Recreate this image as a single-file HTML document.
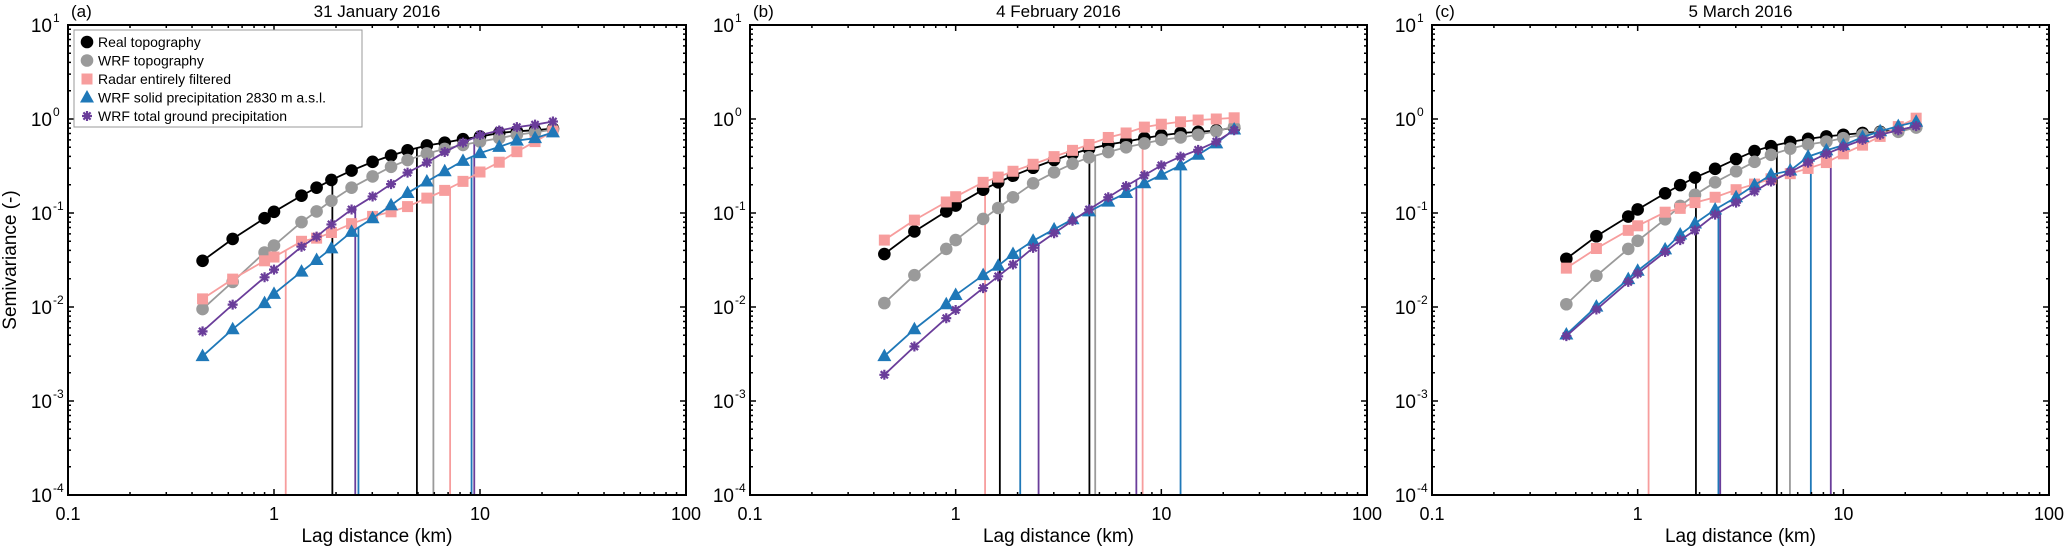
<!DOCTYPE html>
<html><head><meta charset="utf-8"><style>
html,body{margin:0;padding:0;background:#fff;}
svg{display:block;font-family:"Liberation Sans",sans-serif;}
</style></head><body>
<svg id="fig" width="2067" height="547" viewBox="0 0 2067 547"></svg>
<script>
const lags=[0.45,0.63,0.9,1.0,1.36,1.61,1.9,2.38,3.01,3.7,4.45,5.52,6.74,8.27,10.0,12.4,15.1,18.5,22.6];
const seriesNames=["Real topography","WRF topography","Radar entirely filtered","WRF solid precipitation 2830 m a.s.l.","WRF total ground precipitation"];
const panelTitles=["31 January 2016","4 February 2016","5 March 2016"];
const panelLetters=["(a)","(b)","(c)"];
const xTicks=[0.1,1,10,100];
const xTickLabels=["0.1","1","10","100"];
const yTickExps=[1,0,-1,-2,-3,-4];
// panel a
const aReal=[0.031,0.053,0.088,0.103,0.153,0.186,0.225,0.283,0.35,0.408,0.464,0.523,0.56,0.61,0.65,0.71,0.74,0.76,0.79];
const aWrfTopo=[0.0095,0.0185,0.038,0.045,0.08,0.104,0.135,0.186,0.245,0.31,0.366,0.43,0.48,0.53,0.575,0.625,0.68,0.72,0.77];
const aRadar=[0.0122,0.0198,0.031,0.034,0.05,0.054,0.062,0.077,0.092,0.103,0.117,0.144,0.174,0.217,0.273,0.347,0.449,0.575,0.74];
const aSolid=[0.003,0.0058,0.011,0.0138,0.0238,0.0316,0.042,0.063,0.088,0.121,0.163,0.216,0.278,0.359,0.434,0.505,0.589,0.625,0.72];
const aTotal=[0.0055,0.0106,0.0207,0.025,0.0438,0.056,0.0756,0.109,0.15,0.203,0.269,0.344,0.445,0.56,0.675,0.755,0.82,0.87,0.94];
// panel b
const bReal=[0.0366,0.0636,0.104,0.12,0.177,0.212,0.249,0.303,0.366,0.426,0.48,0.536,0.574,0.626,0.67,0.71,0.73,0.755,0.81];
const bWrfTopo=[0.011,0.0218,0.0415,0.0515,0.0865,0.113,0.147,0.207,0.271,0.335,0.39,0.445,0.5,0.55,0.6,0.636,0.68,0.74,0.83];
const bRadar=[0.0515,0.084,0.131,0.149,0.212,0.241,0.278,0.33,0.398,0.464,0.536,0.636,0.71,0.82,0.88,0.934,0.975,1.0,1.03];
const bSolid=[0.003,0.0058,0.0107,0.0134,0.0218,0.0275,0.0366,0.0506,0.067,0.0857,0.104,0.132,0.163,0.207,0.255,0.321,0.416,0.55,0.774];
const bTotal=[0.0019,0.0038,0.0076,0.0093,0.0159,0.0212,0.0283,0.0426,0.0609,0.0827,0.109,0.147,0.193,0.252,0.321,0.398,0.47,0.574,0.76];
// panel c
const cReal=[0.0326,0.0566,0.0917,0.109,0.162,0.198,0.238,0.295,0.375,0.456,0.514,0.57,0.615,0.653,0.68,0.71,0.73,0.76,0.83];
const cWrfTopo=[0.0107,0.0215,0.0415,0.0506,0.0857,0.119,0.156,0.212,0.278,0.35,0.416,0.484,0.536,0.574,0.626,0.68,0.72,0.73,0.81];
const cRadar=[0.0259,0.0419,0.0654,0.0731,0.102,0.112,0.129,0.147,0.177,0.203,0.231,0.262,0.298,0.344,0.426,0.527,0.653,0.83,1.02];
const cSolid=[0.0051,0.0101,0.0198,0.0243,0.041,0.059,0.0774,0.109,0.147,0.198,0.255,0.283,0.398,0.464,0.527,0.642,0.74,0.84,0.934];
const cTotal=[0.0049,0.0094,0.0185,0.0227,0.0385,0.0515,0.0654,0.096,0.129,0.17,0.216,0.273,0.344,0.426,0.505,0.6,0.68,0.76,0.84];
// range (vertical line) lag distances per series [real, wrfTopo, radar, solid, total]
const aRanges=[[1.92,4.94],[5.94],[1.14,7.16],[2.57,9.1],[2.48,9.38]];
const bRanges=[[1.64,4.47],[4.77],[1.39,8.11],[2.06,12.4],[2.53,7.56]];
const cRanges=[[1.92,4.75],[5.5],[1.13],[2.47,6.95],[2.52,8.69]];

const panelsData=[[aReal,aWrfTopo,aRadar,aSolid,aTotal],[bReal,bWrfTopo,bRadar,bSolid,bTotal],[cReal,cWrfTopo,cRadar,cSolid,cTotal]];
const panelsRanges=[aRanges,bRanges,cRanges];
const colors=["#000000","#9a9a9a","#f79d9d","#1f78b8","#6a3d9a"];
const markers=["circle","circle","square","triangle","star"];
const keys=["real-topography","wrf-topography","radar-filtered","wrf-solid-precip","wrf-total-precip"];
const frames=[[68,686],[750,1367],[1432,2049]];
const TOP=25,BOT=495;
const NS="http://www.w3.org/2000/svg";
const svg=document.getElementById("fig");
function mk(tag,attrs,parent){const e=document.createElementNS(NS,tag);for(const k in attrs)e.setAttribute(k,attrs[k]);(parent||svg).appendChild(e);return e;}
function marker(g,type,x,y,c){
  let e;
  if(type==="circle")e=mk("circle",{cx:x,cy:y,r:6.3,fill:c},g);
  else if(type==="square")e=mk("rect",{x:x-5.5,y:y-5.5,width:11,height:11,fill:c},g);
  else if(type==="triangle")e=mk("polygon",{points:`${x},${y-7.5} ${x-7},${y+5} ${x+7},${y+5}`,fill:c},g);
  else{e=mk("path",{d:`M${x-5},${y}H${x+5}M${x},${y-5}V${y+5}M${x-3.6},${y-3.6}L${x+3.6},${y+3.6}M${x-3.6},${y+3.6}L${x+3.6},${y-3.6}`,stroke:c,"stroke-width":2.2,fill:"none"},g);}
  return e;
}
panelsData.forEach((data,p)=>{
  const [L,R]=frames[p];
  const xs=v=>L+(Math.log10(v)+1)/3*(R-L);
  const ys=v=>TOP+(1-Math.log10(v))/5*(BOT-TOP);
  const g=mk("g",{});
  
  
  const t=mk("text",{x:(L+R)/2,y:17,"text-anchor":"middle","font-size":17},g);t.textContent=panelTitles[p];
  
  
  const lt=mk("text",{x:L+3,y:17,"font-size":17},g);lt.textContent=panelLetters[p];
  
  
  // range lines
  data.forEach((vals,s)=>{
    panelsRanges[p][s].forEach(r=>{
      let i=0;while(i<lags.length-2&&lags[i+1]<r)i++;
      const f=(Math.log10(r)-Math.log10(lags[i]))/(Math.log10(lags[i+1])-Math.log10(lags[i]));
      const yv=Math.pow(10,Math.log10(vals[i])+f*(Math.log10(vals[i+1])-Math.log10(vals[i])));
      const ln=mk("line",{x1:xs(r),x2:xs(r),y1:BOT,y2:ys(yv),stroke:colors[s],"stroke-width":1.8},g);
      
      
    });
  });
  // series
  data.forEach((vals,s)=>{
    const sg=mk("g",{},g);
    
    
    mk("polyline",{points:vals.map((v,i)=>xs(lags[i])+","+ys(v)).join(" "),fill:"none",stroke:colors[s],"stroke-width":1.8},sg);
    vals.forEach((v,i)=>{const m=marker(sg,markers[s],xs(lags[i]),ys(v),colors[s]);
      
      });
  });
  // frame
  const fr=mk("rect",{x:L,y:TOP,width:R-L,height:BOT-TOP,fill:"none",stroke:"#000","stroke-width":2},g);
  
  
  // ticks
  let d="";
  for(let e=-1;e<2;e++)for(let k=1;k<10;k++){const v=k*Math.pow(10,e);const x=xs(v);const len=k===1?6:3;if(k===1&&e===-1)continue;d+=`M${x},${BOT}v${-len}M${x},${TOP}v${len}`;}
  for(let e=-4;e<1;e++)for(let k=1;k<10;k++){const v=k*Math.pow(10,e);const y=ys(v);const len=k===1?6:3;if(k===1&&e===-4)continue;d+=`M${L},${y}h${len}M${R},${y}h${-len}`;}
  mk("path",{d:d,stroke:"#000","stroke-width":1.5,fill:"none"},g);
  xTicks.forEach((v,i)=>{const tx=mk("text",{x:xs(v),y:520,"text-anchor":"middle","font-size":18},g);tx.textContent=xTickLabels[i];
    
    });
  yTickExps.forEach(e=>{const y=ys(Math.pow(10,e));const tx=mk("text",{x:L-16,y:y+7,"text-anchor":"end","font-size":19},g);tx.textContent="10";
    
    
    const sp=mk("text",{x:L-15,y:y-3,"font-size":12},g);sp.textContent=String(e);
    
    });
  const xt=mk("text",{x:(L+R)/2,y:542,"text-anchor":"middle","font-size":19},g);xt.textContent="Lag distance (km)";
  
  
  if(p===0){
    const yt=mk("text",{x:0,y:0,transform:"translate(16,260) rotate(-90)","text-anchor":"middle","font-size":19},g);yt.textContent="Semivariance (-)";
    
    
    const lg=mk("g",{},g);
    
    
    mk("rect",{x:74,y:30,width:288,height:97,fill:"#fff",stroke:"#999","stroke-width":1},lg);
    seriesNames.forEach((n,s)=>{const y=42+s*18.5;
      const eg=mk("g",{},lg);
      
      
      marker(eg,markers[s],87,y,colors[s]);
      const tx=mk("text",{x:98,y:y+5,"font-size":14},eg);tx.textContent=n;});
  }
});
</script>
</body></html>
